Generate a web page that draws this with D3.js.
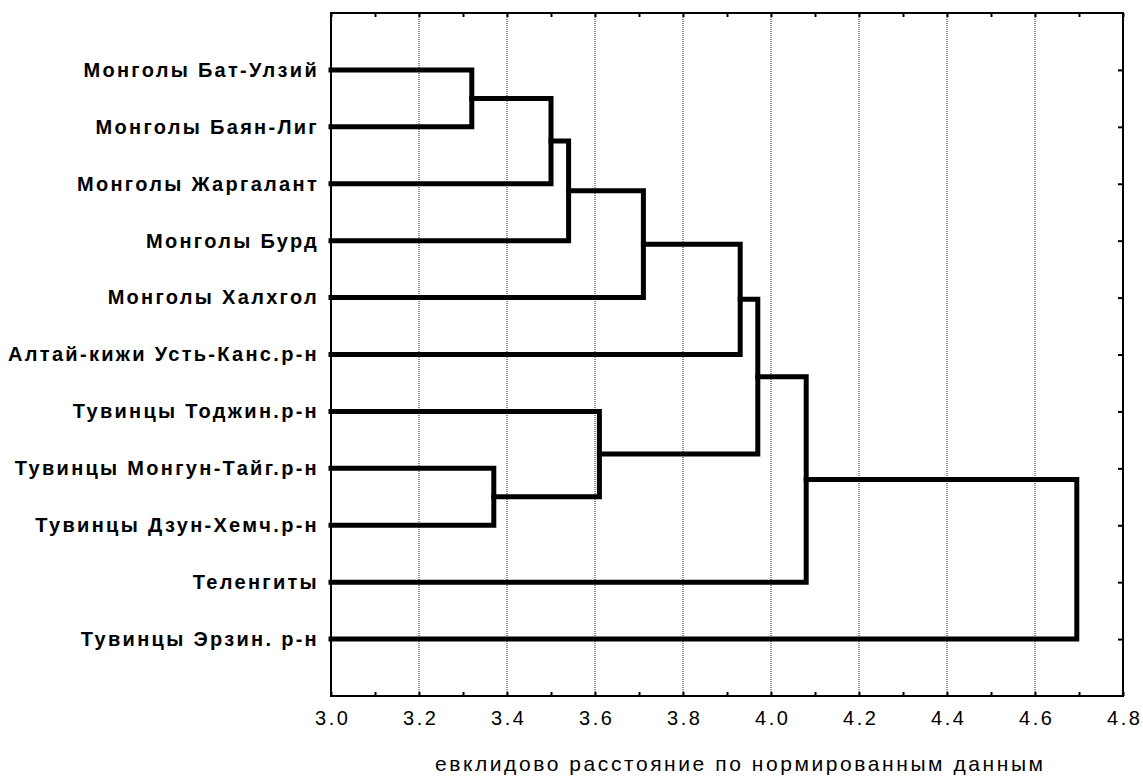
<!DOCTYPE html>
<html>
<head>
<meta charset="utf-8">
<script src="https://cdn.jsdelivr.net/npm/d3@7"></script>
<style>
  body { margin: 0; background: #fff; }
  svg { display: block; font-family: "Liberation Sans", Arial, sans-serif; }
  .grid line { stroke: #222; stroke-width: 1; stroke-dasharray: 1,1; }
  .link { fill: none; stroke: #000; stroke-width: 5; stroke-linejoin: miter; stroke-linecap: square; }
</style>
</head>
<body>
<svg width="1143" height="776"></svg>
<script>
// leaf names, top to bottom
var leaves = [
    "Монголы Бат-Улзий",
    "Монголы Баян-Лиг",
    "Монголы Жаргалант",
    "Монголы Бурд",
    "Монголы Халхгол",
    "Алтай-кижи Усть-Канс.р-н",
    "Тувинцы Тоджин.р-н",
    "Тувинцы Монгун-Тайг.р-н",
    "Тувинцы Дзун-Хемч.р-н",
    "Теленгиты",
    "Тувинцы Эрзин. р-н"
];

// joins: [node a, node b, distance]; new node ids start at leaves.length
var mergeA = [0, 11, 12, 13, 14, 7, 6, 15, 18, 19];
var mergeB = [1, 2, 3, 4, 5, 8, 16, 17, 9, 10];
var mergeDist = [3.32, 3.50, 3.54, 3.71, 3.93, 3.37, 3.61, 3.97, 4.08, 4.695];

var xTicks = [3.0, 3.1, 3.2, 3.3, 3.4, 3.5, 3.6, 3.7, 3.8, 3.9, 4.0, 4.1, 4.2, 4.3, 4.4, 4.5, 4.6, 4.7, 4.8];
var gridTicks = [3.2, 3.4, 3.6, 3.8, 4.0, 4.2, 4.4, 4.6];
var xTitle = "евклидово расстояние по нормированным данным";

var margin = {top: 13, right: 20, bottom: 80, left: 331},
    width = 1143 - margin.left - margin.right,
    height = 776 - margin.top - margin.bottom;

var x = d3.scaleLinear().domain([3.0, 4.8]).range([0, width]);
var y = d3.scaleLinear().domain([0, leaves.length + 1]).range([0, height]);

var svg = d3.select("svg");
var g = svg.append("g")
    .attr("transform", "translate(" + margin.left + "," + margin.top + ")");

// grid
g.append("g")
    .attr("class", "grid")
    .selectAll("line")
    .data(gridTicks)
    .enter().append("line")
    .attr("x1", function(d) { return x(d); })
    .attr("x2", function(d) { return x(d); })
    .attr("y1", 0)
    .attr("y2", height);

// node positions
var nodeX = [], nodeY = [];
leaves.forEach(function(d, i) {
    nodeX.push(3.0);
    nodeY.push(i + 1);
});
mergeDist.forEach(function(h, i) {
    var a = mergeA[i], b = mergeB[i];
    g.append("path")
        .attr("class", "link")
        .attr("d", "M" + x(nodeX[a]) + "," + y(nodeY[a]) +
                   "H" + x(h) + "V" + y(nodeY[b]) +
                   "H" + x(nodeX[b]));
    nodeX.push(h);
    nodeY.push((nodeY[a] + nodeY[b]) / 2);
});

// axes
var xAxis = d3.axisBottom(x)
    .tickValues(xTicks)
    .tickSizeInner(-4)
    .tickSizeOuter(0)
    .tickPadding(15)
    .tickFormat(function(d, i) { return i % 2 === 0 ? d3.format(".1f")(d) : ""; });

var xTop = d3.axisTop(x)
    .tickValues(xTicks)
    .tickSizeInner(-4)
    .tickSizeOuter(0)
    .tickFormat("");

var rows = d3.range(1, leaves.length + 1);

var yLeft = d3.axisLeft(y)
    .tickValues(rows)
    .tickSizeInner(-5)
    .tickSizeOuter(0)
    .tickPadding(12)
    .tickFormat(function(d) { return leaves[d - 1]; });

var yRight = d3.axisRight(y)
    .tickValues(rows)
    .tickSizeInner(-5)
    .tickSizeOuter(0)
    .tickFormat("");

var gx = g.append("g")
    .attr("transform", "translate(0," + height + ")")
    .call(xAxis)
    .attr("font-family", null)
    .attr("font-size", null);
gx.selectAll("text")
    .attr("fill", "#000")
    .attr("dx", "1.25px")
    .style("font-size", "20px")
    .style("letter-spacing", "2.5px");

g.append("g").call(xTop);

var gl = g.append("g").call(yLeft)
    .attr("font-family", null)
    .attr("font-size", null);
gl.selectAll("text")
    .attr("fill", "#000")
    .style("font-size", "20px")
    .style("font-weight", "bold")
    .style("letter-spacing", "2.3px");

g.append("g")
    .attr("transform", "translate(" + width + ",0)")
    .call(yRight);

g.selectAll(".domain").remove();
g.selectAll(".tick line").attr("stroke", "#000").attr("stroke-width", 2);

// frame
g.append("rect")
    .attr("width", width)
    .attr("height", height)
    .attr("fill", "none")
    .attr("stroke", "#000")
    .attr("stroke-width", 2);

svg.append("text")
    .attr("x", 739)
    .attr("y", 771)
    .attr("text-anchor", "middle")
    .attr("font-size", 21)
    .attr("textLength", 608)
    .attr("lengthAdjust", "spacing")
    .text(xTitle);
</script>
</body>
</html>
